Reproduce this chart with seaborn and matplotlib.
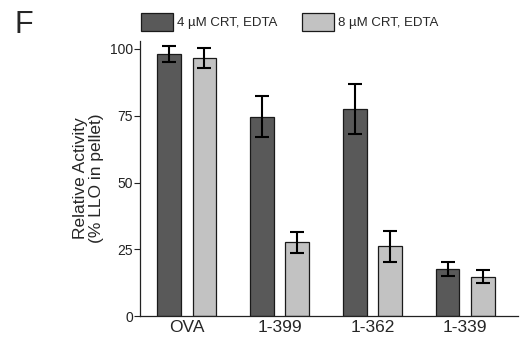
import matplotlib
matplotlib.use("Agg")
import matplotlib.pyplot as plt
import seaborn as sns
import pandas as pd
import numpy as np
from matplotlib.patches import Patch

categories = ["OVA", "1-399", "1-362", "1-339"]
series_names = ["4 \u00b5M CRT, EDTA", "8 \u00b5M CRT, EDTA"]
values_4uM = [98.0, 74.6, 77.5, 17.6]
errors_4uM = [3.0, 7.7, 9.3, 2.7]
values_8uM = [96.5, 27.6, 26.2, 14.7]
errors_8uM = [3.7, 3.9, 5.8, 2.4]
yticks = [0, 25, 50, 75, 100]

sns.set_theme(style="ticks")
plt.rcParams["font.family"] = ["Liberation Sans", "DejaVu Sans"]

df = pd.DataFrame({
    "cat": categories * 2,
    "series": [series_names[0]] * 4 + [series_names[1]] * 4,
    "val": values_4uM + values_8uM,
    "err": errors_4uM + errors_8uM,
})

fig = plt.figure(figsize=(5.24, 3.5), dpi=100)
ax = fig.add_axes([0.267, 0.097, 0.722, 0.786])

sns.barplot(data=df, x="cat", y="val", hue="series", order=categories,
            hue_order=series_names, palette=["#595959", "#c2c2c2"],
            width=0.76, gap=0.33, errorbar=None, edgecolor="#1a1a1a",
            linewidth=0.9, ax=ax, legend=False)

# error bars at the bar centers
bars = [p for p in ax.patches]
xs = [b.get_x() + b.get_width() / 2 for b in bars]
hs = [b.get_height() for b in bars]
errs = errors_4uM + errors_8uM
ax.errorbar(xs, hs, yerr=errs, fmt="none", ecolor="black", elinewidth=1.5,
            capsize=4.7, capthick=1.5, zorder=5)

ax.set_xlim(-0.505, 3.57)
ax.set_ylim(0, 103)
ax.set_yticks(yticks)
ax.set_yticklabels([str(t) for t in yticks], fontsize=10, color="#222222")
ax.tick_params(axis="y", length=4, width=0.8, color="#222222", pad=1)
ax.tick_params(axis="x", length=0, labelsize=12.5, pad=3)
ax.set_xlabel("")
ax.set_ylabel("Relative Activity\n(% LLO in pellet)", fontsize=12.5, labelpad=4,
              linespacing=1.1)
for s in ["top", "right"]:
    ax.spines[s].set_visible(False)
for s in ["left", "bottom"]:
    ax.spines[s].set_color("#222222")
    ax.spines[s].set_linewidth(0.9)

handles = [Patch(facecolor="#595959", edgecolor="#1a1a1a", linewidth=0.9),
           Patch(facecolor="#c2c2c2", edgecolor="#1a1a1a", linewidth=0.9)]
fig.legend(handles, series_names, loc="upper left", bbox_to_anchor=(0.254, 0.985),
           ncol=2, frameon=False, fontsize=9.5, handlelength=2.4,
           handleheight=1.7, handletextpad=0.3, columnspacing=1.9,
           borderaxespad=0.2)

fig.text(0.027, 0.905, "F", fontsize=22)

fig.savefig("out.png", dpi=100)
